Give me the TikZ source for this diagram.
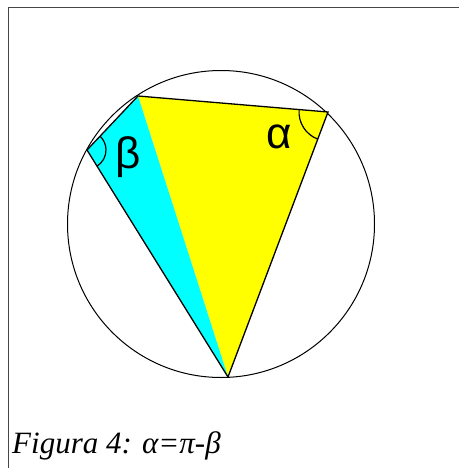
\documentclass[tikz,border=0pt]{standalone}
\usepackage{fontspec}
\setmainfont{Liberation Serif}
\newfontfamily\lblfont{Liberation Sans}
\usetikzlibrary{angles}
\definecolor{tyellow}{RGB}{255,255,0}
\definecolor{tcyan}{RGB}{0,255,255}
\definecolor{framegray}{RGB}{70,70,70}
\tikzset{
  edge/.style={draw=black, line width=1.3pt},
  arcmark/.style={draw=black, line width=1.2pt},
  glabel/.style={font=\lblfont\fontsize{44}{44}\selectfont, inner sep=0pt},
  caption/.style={font=\itshape\fontsize{31}{31}\selectfont, inner sep=0pt, anchor=base west},
}
\begin{document}
\begin{tikzpicture}[x=1pt,y=1pt]
\useasboundingbox (0,0) rectangle (459,-468);
% frame
\draw[framegray, line width=1pt] (8,-468) -- (8,-7.5) -- (459,-7.5);
% circle
\coordinate (O) at (221,-224);
\draw[black, line width=1pt] (O) circle (153.5);
% vertices
\coordinate (A) at (138,-96);
\coordinate (B) at (328,-112);
\coordinate (C) at (228,-377);
\coordinate (D) at (87,-150);
% fills
\fill[tyellow] (A) -- (B) -- (C) -- cycle;
\fill[tcyan] (A) -- (D) -- (C) -- cycle;
% edges
\draw[edge] (C) -- (D) -- (A) -- (B) -- (C);
% angle marks
\pic[arcmark, angle radius=29pt] {angle = A--B--C};
\pic[arcmark, angle radius=19pt] {angle = C--D--A};
% labels
\node[glabel] (alpha) at (279,-137) {α};
\node[glabel] (beta) at (128,-157) {β};
\node[caption] (cap) at (12,-453) {Figura 4: α=π-β};
\end{tikzpicture}
\end{document}
